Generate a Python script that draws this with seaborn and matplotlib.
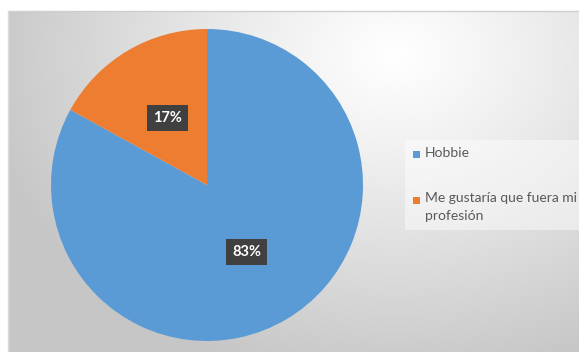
import numpy as np
import matplotlib
matplotlib.use("Agg")
import matplotlib.pyplot as plt
import seaborn as sns
from matplotlib.patches import Rectangle

categories = ["Hobbie", "Me gustaría que fuera mi profesión"]
legend_labels = ["Hobbie", "Me gustaría que fuera mi\nprofesión"]
values = [83, 17]
colors = ["#5B9BD5", "#ED7D31"]

sns.set_theme(style="white")
plt.rcParams['font.family'] = ['Lato', 'DejaVu Sans']

W, H = 579, 352
fig = plt.figure(figsize=(W / 100, H / 100), dpi=100)
fig.patch.set_facecolor("white")

# background chart area with radial gradient
bx0, by0 = 8, 11
bg = fig.add_axes([bx0 / W, 0, (W - bx0) / W, (H - by0) / H])
xs = np.arange(bx0, W)
ys = np.arange(by0, H)
X, Y = np.meshgrid(xs, ys)
d = np.sqrt(((X - 395) / 420.0) ** 2 + ((Y - 55) / 330.0) ** 2)
d = np.clip(d, 0, 1)
val = 255 - 57 * d ** 1.1
img = np.dstack([val, val, val]) / 255.0
bg.imshow(img, aspect="auto", extent=[0, 1, 0, 1], origin="upper")
bg.set_axis_off()
fig.add_artist(plt.Line2D([bx0 / W, 1], [1 - by0 / H, 1 - by0 / H], color="#cfcfcf", lw=1))
fig.add_artist(plt.Line2D([bx0 / W, bx0 / W], [0, 1 - by0 / H], color="#dcdcdc", lw=1))

# pie
cx, cy, r = 207, 185, 156
ax = fig.add_axes([(cx - r) / W, (H - cy - r) / H, 2 * r / W, 2 * r / H])
ax.set_facecolor("none")
wedges, texts, autotexts = ax.pie(
    values, colors=colors, startangle=90, counterclock=False,
    autopct=lambda p: f"{p:.0f}%", pctdistance=0.5,
    wedgeprops=dict(linewidth=0),
    textprops=dict(color="white", fontsize=10.5, fontweight="bold"),
)
for t in autotexts:
    t.set_bbox(dict(boxstyle="square,pad=0.42", fc="#404040", ec="none"))
ax.set_xlim(-1, 1)
ax.set_ylim(-1, 1)
ax.set_aspect("equal")
ax.set_axis_off()

# legend
fig.add_artist(Rectangle((405 / W, 1 - 230 / H), (W - 405) / W, 90 / H,
                         transform=fig.transFigure, fc="white", alpha=0.45, ec="none"))
entry_y = [155, 200]
for lab, col, yy in zip(legend_labels, colors, entry_y):
    fig.add_artist(Rectangle((413 / W, 1 - (yy + 3.5) / H), 7 / W, 7 / H,
                             transform=fig.transFigure, fc=col, ec="none"))
    fig.text(425 / W, 1 - (yy - 8) / H, lab, fontsize=10, color="#595959",
             va="top", ha="left", linespacing=1.55)

fig.savefig("out.png", dpi=100)
